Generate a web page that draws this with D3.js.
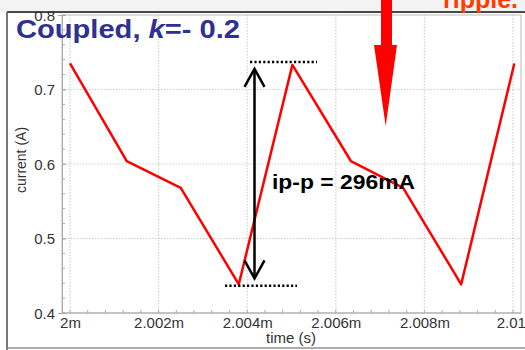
<!DOCTYPE html>
<html><head><meta charset="utf-8">
<script src="https://cdn.jsdelivr.net/npm/d3@7"></script>
<style>html,body{margin:0;padding:0;background:#fff;}svg{display:block;font-family:"Liberation Sans",Arial,sans-serif;}</style>
</head><body>
<svg id="c" width="525" height="350"></svg>
<script>
// data (time in ms, current in A)
const times   = [2.000, 2.00128, 2.0025, 2.00381, 2.00502, 2.00634, 2.00752, 2.00883, 2.01003];
const current = [0.735, 0.604, 0.568, 0.4385, 0.733, 0.604, 0.568, 0.4385, 0.735];
const xTicks = [2.000, 2.002, 2.004, 2.006, 2.008, 2.010];
const xTickLabels = ["2m", "2.002m", "2.004m", "2.006m", "2.008m", "2.01m"];
const yTicks = [0.4, 0.5, 0.6, 0.7, 0.8];
const yTickLabels = ["0.4", "0.5", "0.6", "0.7", "0.8"];
const ippValue = [0.4385, 0.733]; // min / max of the ripple
const titleText = "Coupled, ";
const annotText = "ip-p = 296mA";

const svg = d3.select("#c");
const x = d3.scaleLinear().domain([2.000, 2.010]).range([70, 513]);
const y = d3.scaleLinear().domain([0.4, 0.8]).range([313, 15]);

// outer frame
svg.append("rect").attr("x", 7).attr("y", 12).attr("width", 530).attr("height", 336)
  .attr("fill", "#fff").attr("stroke", "#777").attr("stroke-width", 1.2);

// plot frame
svg.append("rect").attr("x", 62).attr("y", 15).attr("width", 459).attr("height", 298)
  .attr("fill", "none").attr("stroke", "#bbb").attr("stroke-width", 1);

// grid
const grid = svg.append("g").attr("stroke", "#d0d0d0").attr("stroke-width", 1.2).attr("stroke-dasharray", "1.5,1.5");
xTicks.forEach(t => grid.append("line").attr("x1", x(t)).attr("x2", x(t)).attr("y1", 15).attr("y2", 313));
yTicks.slice(1, 4).forEach(t => grid.append("line").attr("x1", 62).attr("x2", 521).attr("y1", y(t)).attr("y2", y(t)));

// axes
const xAxis = d3.axisBottom(x).tickValues(xTicks).tickFormat((d, i) => xTickLabels[i]).tickSize(0).tickPadding(4);
const gx = svg.append("g").attr("transform", "translate(0,313)").call(xAxis);
gx.select(".domain").attr("stroke", "#aaa").attr("d", "M62,0H521");
gx.selectAll("text").attr("font-size", 15).attr("fill", "#333").attr("font-family", "Liberation Sans, Arial, sans-serif");
gx.selectAll(".tick").filter((d, i) => i === xTicks.length - 1).select("text").attr("dx", 4);

const xMinor = d3.range(0, 26).map(i => 2.000 + i * 0.0004);
svg.append("g").selectAll("line").data(xMinor).join("line")
  .attr("x1", d => x(d)).attr("x2", d => x(d)).attr("y1", 313).attr("y2", 310)
  .attr("stroke", "#aaa").attr("stroke-width", 1);

const yAxis = d3.axisLeft(y).tickValues(yTicks).tickFormat((d, i) => yTickLabels[i]).tickSize(4).tickPadding(3);
const gy = svg.append("g").attr("transform", "translate(62,0)").call(yAxis);
gy.select(".domain").attr("stroke", "#aaa");
gy.selectAll(".tick line").attr("stroke", "#aaa").attr("x2", 4).attr("x1", 0);
gy.selectAll("text").attr("font-size", 15).attr("fill", "#333").attr("font-family", "Liberation Sans, Arial, sans-serif").attr("dy", "0.35em");

const yMinor = d3.range(0, 21).map(i => 0.4 + i * 0.02);
svg.append("g").selectAll("line").data(yMinor).join("line")
  .attr("x1", 62).attr("x2", 65).attr("y1", d => y(d)).attr("y2", d => y(d))
  .attr("stroke", "#aaa").attr("stroke-width", 1);

// axis titles
svg.append("text").attr("x", 291).attr("y", 343).attr("text-anchor", "middle")
  .attr("font-size", 15).attr("fill", "#333").text("time (s)");
svg.append("text").attr("transform", "translate(26,160) rotate(-90)").attr("text-anchor", "middle")
  .attr("font-size", 14).attr("fill", "#333").text("current (A)");

// data line
const pts = times.map((t, i) => [t, current[i]]);
svg.append("path").datum(pts)
  .attr("d", d3.line().x(d => x(d[0])).y(d => y(d[1])))
  .attr("fill", "none").attr("stroke", "#ff0000").attr("stroke-width", 2.5).attr("stroke-linejoin", "round");

// ripple annotation
const ax = 254.5;
const yTop = y(ippValue[1]) + 4, yBot = y(ippValue[0]) - 6;
svg.append("line").attr("x1", 250).attr("x2", 317).attr("y1", y(ippValue[1]) - 3).attr("y2", y(ippValue[1]) - 3)
  .attr("stroke", "#000").attr("stroke-width", 2.5).attr("stroke-dasharray", "2.2,2.2");
svg.append("line").attr("x1", 225).attr("x2", 297).attr("y1", y(ippValue[0]) + 1.5).attr("y2", y(ippValue[0]) + 1.5)
  .attr("stroke", "#000").attr("stroke-width", 2.5).attr("stroke-dasharray", "2.2,2.2");
svg.append("line").attr("x1", ax).attr("x2", ax).attr("y1", yTop).attr("y2", yBot)
  .attr("stroke", "#000").attr("stroke-width", 2.5);
svg.append("polyline").attr("points", `${ax-10},${yTop+18} ${ax},${yTop} ${ax+10},${yTop+18}`)
  .attr("fill", "none").attr("stroke", "#000").attr("stroke-width", 2.5);
svg.append("polyline").attr("points", `${ax-10},${yBot-18} ${ax},${yBot} ${ax+10},${yBot-18}`)
  .attr("fill", "none").attr("stroke", "#000").attr("stroke-width", 2.5);
svg.append("text").attr("x", 272).attr("y", 188.5).attr("font-size", 20).attr("font-weight", "bold")
  .attr("fill", "#000").attr("textLength", 143).attr("lengthAdjust", "spacingAndGlyphs").text(annotText);

// title
const tt = svg.append("text").attr("x", 16).attr("y", 37.5).attr("font-size", 26.5).attr("font-weight", "bold")
  .attr("fill", "#2E3192").attr("textLength", 224).attr("lengthAdjust", "spacingAndGlyphs");
tt.append("tspan").text(titleText);
tt.append("tspan").attr("font-style", "italic").text("k");
tt.append("tspan").text("=- 0.2");

// background strip above the image
svg.append("rect").attr("x", 0).attr("y", 0).attr("width", 525).attr("height", 11.5).attr("fill", "#f3f3f3");
svg.append("line").attr("x1", 7).attr("x2", 525).attr("y1", 12).attr("y2", 12).attr("stroke", "#222").attr("stroke-width", 1.5);
svg.append("line").attr("x1", 7).attr("x2", 7).attr("y1", 12).attr("y2", 350).attr("stroke", "#666").attr("stroke-width", 1.5);

// big red arrow
svg.append("polygon").attr("points", "381,0 392,0 392,45 397,45 385.7,126 374,45 381,45").attr("fill", "#ff0000");

// clipped "ripple." text
svg.append("text").attr("x", 518).attr("y", 8).attr("text-anchor", "end").attr("font-size", 25)
  .attr("font-weight", "bold").attr("fill", "#ff3c00").text("ripple.");
</script>
</body></html>
